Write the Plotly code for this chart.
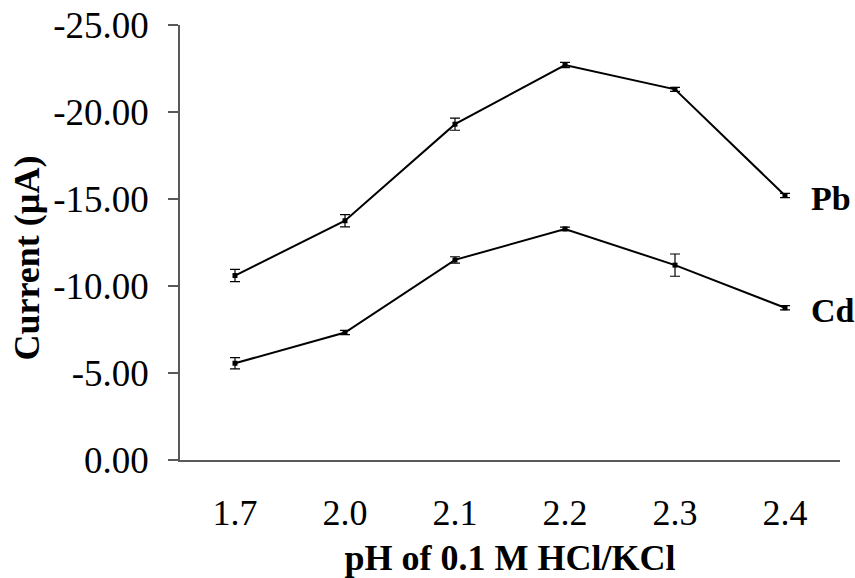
import plotly.graph_objects as go

# pH of the supporting electrolyte (categorical axis)
ph_labels = ["1.7", "2.0", "2.1", "2.2", "2.3", "2.4"]

# Peak currents (µA) and standard deviations
pb_current = [-10.6, -13.75, -19.3, -22.7, -21.3, -15.2]
pb_error = [0.35, 0.35, 0.35, 0.15, 0.12, 0.12]
cd_current = [-5.56, -7.33, -11.5, -13.28, -11.2, -8.75]
cd_error = [0.32, 0.12, 0.18, 0.1, 0.64, 0.12]

# y-axis ticks
y_ticks = [0, -5, -10, -15, -20, -25]
y_tick_text = ["0.00", "-5.00", "-10.00", "-15.00", "-20.00", "-25.00"]

series_names = ["Pb", "Cd"]

FONT = "Liberation Serif"
AXIS_GREY = "#595959"

fig = go.Figure()
last_idx = len(ph_labels) - 1
for name, vals, errs in [(series_names[0], pb_current, pb_error),
                         (series_names[1], cd_current, cd_error)]:
    fig.add_trace(go.Scatter(
        x=ph_labels, y=vals, name=name, mode="lines+markers",
        line=dict(color="black", width=2),
        marker=dict(symbol="square", size=5, color="black"),
        error_y=dict(type="data", array=errs, visible=True,
                     color="black", thickness=1.2, width=5),
        showlegend=False,
    ))
    # series label beside the last point (category index on the x axis)
    fig.add_annotation(
        x=last_idx, y=vals[-1], xref="x", yref="y",
        text=f"<b>{name}</b>", showarrow=False,
        xanchor="left", yanchor="middle", xshift=24, yshift=-3,
        font=dict(family=FONT, size=34, color="black"),
    )

# y-axis title, placed as rotated text left of the tick labels
fig.add_annotation(
    x=-0.232, y=0.465, xref="paper", yref="paper",
    text="<b>Current (µA)</b>", textangle=-90, showarrow=False,
    xanchor="center", yanchor="middle",
    font=dict(family=FONT, size=36, color="black"),
)

fig.update_layout(
    width=855, height=578,
    margin=dict(l=180, r=15, t=25, b=118),
    paper_bgcolor="white", plot_bgcolor="white",
    font=dict(family=FONT, color="black"),
)

fig.update_xaxes(
    type="category", range=[-0.5, 5.5], automargin=False,
    showline=True, linecolor=AXIS_GREY, linewidth=1.5,
    ticks="", showgrid=False, zeroline=False,
    tickfont=dict(family=FONT, size=36, color="black"),
    ticklabelstandoff=20,
    title=dict(text="<b>pH of 0.1 M HCl/KCl</b>", standoff=16,
               font=dict(family=FONT, size=36, color="black")),
)

fig.update_yaxes(
    range=[0, -25], automargin=False,
    tickvals=y_ticks, ticktext=y_tick_text,
    showline=True, linecolor=AXIS_GREY, linewidth=1.5,
    ticks="outside", ticklen=10, tickwidth=1.5, tickcolor=AXIS_GREY,
    showgrid=False, zeroline=False,
    tickfont=dict(family=FONT, size=37, color="black"),
    ticklabelstandoff=12,
)

fig.write_html("out.html")
